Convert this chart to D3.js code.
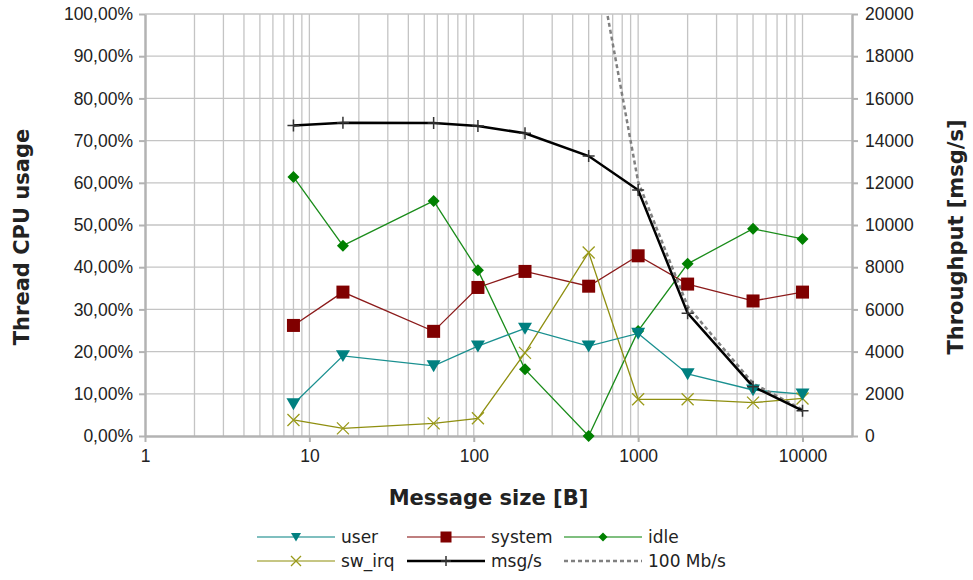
<!DOCTYPE html>
<html>
<head>
<meta charset="utf-8">
<script src="https://cdn.jsdelivr.net/npm/d3@7"></script>
<style>
  body { margin: 0; background: #fff; }
  svg { font-family: "DejaVu Sans", sans-serif; }
</style>
</head>
<body>
<div id="chart"></div>
<script>
// message sizes [B]
var sizes = [8, 16, 57, 106, 205, 500, 1000, 2000, 5000, 10000];

// CPU usage per thread (fraction)
var user   = [0.076, 0.190, 0.166, 0.213, 0.255, 0.213, 0.243, 0.147, 0.109, 0.099];
var system = [0.262, 0.341, 0.248, 0.352, 0.390, 0.355, 0.427, 0.360, 0.320, 0.341];
var idle   = [0.614, 0.451, 0.557, 0.393, 0.158, 0.000, 0.249, 0.408, 0.491, 0.467];
var swIrq  = [0.038, 0.018, 0.030, 0.042, 0.197, 0.435, 0.087, 0.087, 0.079, 0.089];

// throughput [msg/s]
var msgs = [14710, 14850, 14830, 14690, 14350, 13270, 11660, 5820, 2340, 1200];

// 100 Mb/s reference line
var refSizes = [500, 1000, 2000, 5000, 10000];
var refMsgs  = [24800, 12050, 6150, 2490, 1250];

var xTicks = [1, 10, 100, 1000, 10000];
var pctTicks = d3.range(0, 1.0001, 0.1);
var msgTicks = d3.range(0, 20001, 2000);

var W = 973, H = 580;
var margin = {top: 14, right: 121, bottom: 144, left: 145};
var width = W - margin.left - margin.right,
    height = H - margin.top - margin.bottom;

var svg = d3.select("#chart").append("svg")
    .attr("width", W)
    .attr("height", H);

var g = svg.append("g")
    .attr("transform", "translate(" + margin.left + "," + margin.top + ")");

var x = d3.scaleLog().domain([1, 20000]).range([0, width]);
var y = d3.scaleLinear().domain([0, 1]).range([height, 0]);
var y2 = d3.scaleLinear().domain([0, 20000]).range([height, 0]);

var gridColor = "#c4c4c4", axisColor = "#b3b3b3", textColor = "#222";

// grid lines
var minor = [];
for (var k = 0; k < 5; k++) {
    for (var m = 1; m < 10; m++) {
        var v = m * Math.pow(10, k);
        if (v > 1 && v < 20000) minor.push(v);
    }
}
g.append("g").selectAll("line")
    .data(minor)
    .enter().append("line")
    .attr("x1", function(d) { return x(d); })
    .attr("x2", function(d) { return x(d); })
    .attr("y1", 0).attr("y2", height)
    .attr("stroke", gridColor).attr("stroke-width", 1.3);

g.append("g").selectAll("line")
    .data(pctTicks.slice(1))
    .enter().append("line")
    .attr("x1", 0).attr("x2", width)
    .attr("y1", function(d) { return y(d); })
    .attr("y2", function(d) { return y(d); })
    .attr("stroke", gridColor).attr("stroke-width", 1.3);

// axes
function styleAxis(sel) {
    sel.select(".domain").attr("stroke", axisColor).attr("stroke-width", 2.5);
    sel.selectAll(".tick line").attr("stroke", axisColor).attr("stroke-width", 2);
    sel.selectAll(".tick text").attr("fill", textColor).style("font-size", "17.5px");
}

g.append("g")
    .call(d3.axisLeft(y).tickValues(pctTicks).tickSize(6).tickSizeOuter(0)
        .tickFormat(function(d) { return (d * 100).toFixed(2).replace(".", ",") + "%"; }))
    .call(styleAxis)
    .selectAll(".tick text").attr("x", -12);

g.append("g")
    .attr("transform", "translate(" + width + ",0)")
    .call(d3.axisRight(y2).tickValues(msgTicks).tickSize(6).tickSizeOuter(0)
        .tickFormat(d3.format("d")))
    .call(styleAxis)
    .selectAll(".tick text").attr("x", 13);

g.append("g")
    .attr("transform", "translate(0," + height + ")")
    .call(d3.axisBottom(x).tickValues(xTicks).tickSize(6).tickSizeOuter(0)
        .tickFormat(d3.format("d")))
    .call(styleAxis)
    .selectAll(".tick text").attr("y", 14);

// axis titles
svg.append("text")
    .attr("transform", "translate(29," + (margin.top + height / 2 + 12) + ") rotate(-90)")
    .attr("text-anchor", "middle")
    .style("font-size", "21px").style("font-weight", "bold")
    .attr("fill", textColor)
    .text("Thread CPU usage");

svg.append("text")
    .attr("transform", "translate(963," + (margin.top + height / 2 + 12) + ") rotate(-90)")
    .attr("text-anchor", "middle")
    .style("font-size", "21px").style("font-weight", "bold")
    .attr("fill", textColor)
    .text("Throughput [msg/s]");

svg.append("text")
    .attr("x", margin.left + width / 2 - 10)
    .attr("y", 505)
    .attr("text-anchor", "middle")
    .style("font-size", "21px").style("font-weight", "bold")
    .attr("fill", textColor)
    .text("Message size [B]");

// clip for the plot area
svg.append("defs").append("clipPath").attr("id", "plotclip")
    .append("rect").attr("x", 0).attr("y", 0).attr("width", width).attr("height", height);

// marker shapes
function marker(sel, type, color, s) {
    if (type === "tri") {
        sel.append("path").attr("d", "M" + (-s) + "," + (-s * 0.8) + "L" + s + "," + (-s * 0.8) + "L0," + (s * 0.9) + "Z")
            .attr("fill", color);
    } else if (type === "square") {
        sel.append("rect").attr("x", -s).attr("y", -s).attr("width", 2 * s).attr("height", 2 * s)
            .attr("fill", color);
    } else if (type === "diamond") {
        sel.append("path").attr("d", "M0," + (-s) + "L" + s + ",0L0," + s + "L" + (-s) + ",0Z")
            .attr("fill", color);
    } else if (type === "x") {
        sel.append("path").attr("d", "M" + (-s) + "," + (-s) + "L" + s + "," + s + "M" + (-s) + "," + s + "L" + s + "," + (-s))
            .attr("stroke", color).attr("stroke-width", 1.3).attr("fill", "none");
    } else if (type === "plus") {
        sel.append("path").attr("d", "M" + (-s) + ",0L" + s + ",0M0," + (-s) + "L0," + s)
            .attr("stroke", "#333").attr("stroke-width", 1.5).attr("fill", "none");
    }
}

var cpuSeries = [
    {name: "idle", values: idle, color: "#008000", lineColor: "#1a8c1a", type: "diamond", size: 6},
    {name: "system", values: system, color: "#800000", lineColor: "#8b1a1a", type: "square", size: 6.5},
    {name: "sw_irq", values: swIrq, color: "#9a9a1a", lineColor: "#8f8f10", type: "x", size: 6},
    {name: "user", values: user, color: "#008080", lineColor: "#1a9090", type: "tri", size: 7}
];

var plot = g.append("g").attr("clip-path", "url(#plotclip)");

cpuSeries.forEach(function(s) {
    var line = d3.line()
        .x(function(d, i) { return x(sizes[i]); })
        .y(function(d) { return y(d); });
    plot.append("path")
        .datum(s.values)
        .attr("d", line)
        .attr("fill", "none")
        .attr("stroke", s.lineColor)
        .attr("stroke-width", 1.3);
});

// 100 Mb/s dashed reference
plot.append("path")
    .datum(refMsgs)
    .attr("d", d3.line()
        .x(function(d, i) { return x(refSizes[i]); })
        .y(function(d) { return y2(d); }))
    .attr("fill", "none")
    .attr("stroke", "#808080")
    .attr("stroke-width", 2.5)
    .attr("stroke-dasharray", "4,3");

// msg/s line
plot.append("path")
    .datum(msgs)
    .attr("d", d3.line()
        .x(function(d, i) { return x(sizes[i]); })
        .y(function(d) { return y2(d); }))
    .attr("fill", "none")
    .attr("stroke", "#000")
    .attr("stroke-width", 2.5);

var markerLayer = g.append("g");
cpuSeries.forEach(function(s) {
    s.values.forEach(function(v, i) {
        var mg = markerLayer.append("g")
            .attr("transform", "translate(" + x(sizes[i]) + "," + y(v) + ")");
        marker(mg, s.type, s.color, s.size);
    });
});
msgs.forEach(function(v, i) {
    var mg = markerLayer.append("g")
        .attr("transform", "translate(" + x(sizes[i]) + "," + y2(v) + ")");
    marker(mg, "plus", "#333", 6);
});

// legend
var legendItems = [
    {name: "user", color: "#008080", type: "tri", size: 5, width: 1.2, row: 0, col: 0},
    {name: "system", color: "#800000", type: "square", size: 5.5, width: 1.2, row: 0, col: 1},
    {name: "idle", color: "#008000", type: "diamond", size: 4.5, width: 1.2, row: 0, col: 2},
    {name: "sw_irq", color: "#b3b35a", type: "x", size: 5, width: 1.5, row: 1, col: 0},
    {name: "msg/s", color: "#000", type: "plus", size: 5, width: 2.5, row: 1, col: 1},
    {name: "100 Mb/s", color: "#808080", type: "dash", size: 0, width: 2.5, row: 1, col: 2}
];
var legendX = [257, 407, 564], legendY = [537, 561];

legendItems.forEach(function(it) {
    var lg = svg.append("g")
        .attr("transform", "translate(" + legendX[it.col] + "," + legendY[it.row] + ")");
    var ln = lg.append("line")
        .attr("x1", 0).attr("x2", 78).attr("y1", 0).attr("y2", 0)
        .attr("stroke", it.type === "x" ? "#b3b35a" : it.color)
        .attr("stroke-width", it.width);
    if (it.type === "dash") {
        ln.attr("stroke-dasharray", "4,3");
    } else {
        var mg = lg.append("g").attr("transform", "translate(39,0)");
        marker(mg, it.type, it.type === "x" ? "#9a9a1a" : it.color, it.size);
    }
    lg.append("text")
        .attr("x", 84).attr("y", 0).attr("dy", "0.35em")
        .style("font-size", "17px")
        .attr("fill", textColor)
        .text(it.name);
});
</script>
</body>
</html>
